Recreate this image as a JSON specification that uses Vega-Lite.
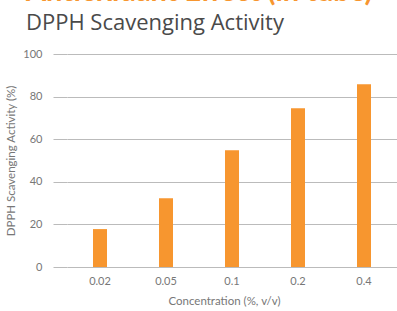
{
  "$schema": "https://vega.github.io/schema/vega-lite/v6.json",
  "width": 330,
  "height": 213,
  "autosize": "none",
  "padding": {"left": 67, "top": 54, "right": 0, "bottom": 44},
  "background": "white",
  "config": {"font": "Lato", "view": {"stroke": null}},
  "title": {
    "text": "Antioxidant Effect (in tube)",
    "subtitle": "DPPH Scavenging Activity",
    "anchor": "start",
    "frame": "group",
    "dx": -41,
    "offset": 14,
    "font": "Lato",
    "fontSize": 29,
    "fontWeight": "bold",
    "color": "#F7962F",
    "subtitleFont": "Open Sans",
    "subtitleFontSize": 22,
    "subtitleColor": "#4A4A4A",
    "subtitlePadding": 6
  },
  "data": {
    "values": [
      {"concentration": "0.02", "activity": 17.8},
      {"concentration": "0.05", "activity": 32.3},
      {"concentration": "0.1", "activity": 54.8},
      {"concentration": "0.2", "activity": 74.5},
      {"concentration": "0.4", "activity": 85.8}
    ]
  },
  "mark": {"type": "bar", "width": 14, "color": "#F7962F"},
  "encoding": {
    "x": {
      "field": "concentration",
      "type": "nominal",
      "sort": null,
      "scale": {"paddingInner": 0, "paddingOuter": 0},
      "axis": {
        "title": "Concentration (%, v/v)",
        "labelAngle": 0,
        "domain": false,
        "ticks": false,
        "labelPadding": 8,
        "labelFontSize": 11,
        "labelColor": "#777777",
        "titleFontSize": 11.5,
        "titleFontWeight": "normal",
        "titleColor": "#777777",
        "titlePadding": 9,
        "titleX": 157,
        "titleAlign": "center",
        "titleAnchor": null
      }
    },
    "y": {
      "field": "activity",
      "type": "quantitative",
      "scale": {"domain": [0, 100]},
      "axis": {
        "title": "DPPH Scavenging Activity (%)",
        "values": [0, 20, 40, 60, 80, 100],
        "domain": false,
        "grid": true,
        "gridColor": "#BBBBBB",
        "tickColor": "#BBBBBB",
        "tickSize": 14,
        "labelPadding": 11,
        "labelFontSize": 11,
        "labelColor": "#777777",
        "titleFontSize": 11.5,
        "titleFontWeight": "normal",
        "titleColor": "#777777",
        "titlePadding": 6
      }
    }
  }
}
